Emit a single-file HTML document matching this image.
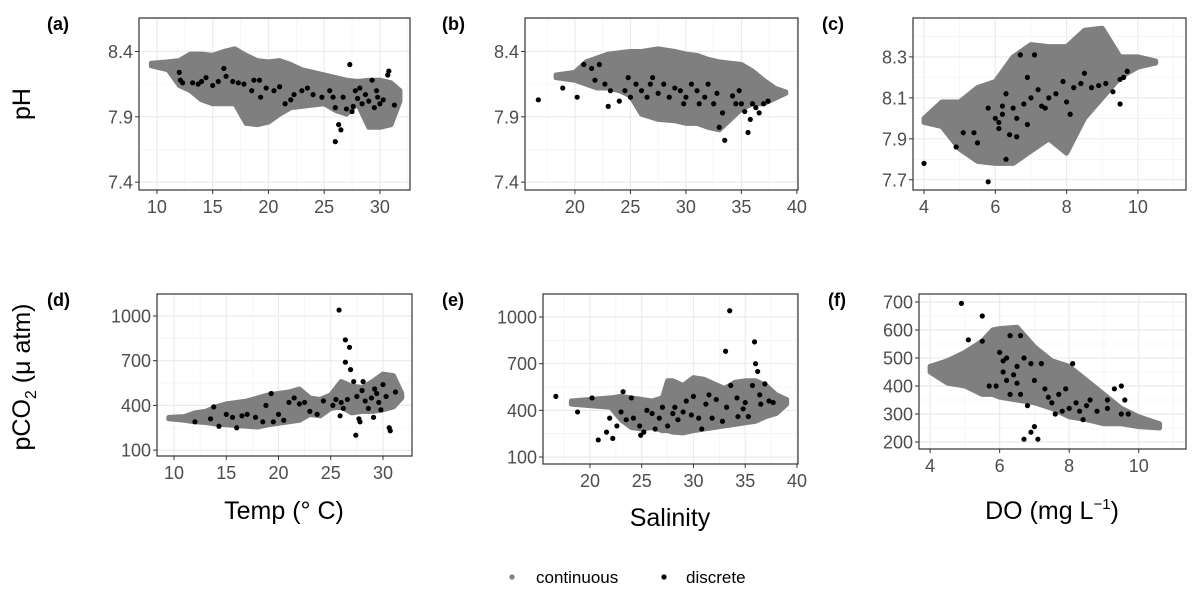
<!DOCTYPE html>
<html><head><meta charset="utf-8"><style>
body{margin:0;background:#fff;}
svg{display:block;font-family:"Liberation Sans",sans-serif;}
</style></head><body>
<svg id="chart" width="1197" height="598" viewBox="0 0 1197 598" xmlns="http://www.w3.org/2000/svg">
<rect width="1197" height="598" fill="#fff"/>
<text x="30" y="104" font-size="25" text-anchor="middle" transform="rotate(-90 30 104)">pH</text>
<text x="30" y="377" font-size="25" text-anchor="middle" transform="rotate(-90 30 377)">pCO<tspan font-size="16" dy="6">2</tspan><tspan dy="-6"> (μ atm)</tspan></text>
<text x="284" y="519" font-size="25" text-anchor="middle">Temp (° C)</text>
<text x="670" y="526" font-size="25" text-anchor="middle">Salinity</text>
<text x="1052" y="519" font-size="25" text-anchor="middle">DO (mg L<tspan font-size="15" dy="-10">−1</tspan><tspan dy="10">)</tspan></text>
<g>
<circle cx="512" cy="577" r="2.6" fill="#7f7f7f"/>
<text x="536" y="583" font-size="17">continuous</text>
<circle cx="664" cy="577" r="2.6" fill="#000"/>
<text x="686" y="583" font-size="17">discrete</text>
</g>
</svg>
<script>
// ---- data ----
const aCloudX=[9.5,11,12,13,14,15,16,17,18,19,20,21,22,23,24,25,26,27,28,29,30,31,31.8];
const aCloudHi=[8.31,8.32,8.33,8.38,8.38,8.37,8.40,8.42,8.37,8.33,8.32,8.33,8.30,8.26,8.24,8.22,8.20,8.18,8.17,8.18,8.18,8.16,8.10];
const aCloudLo=[8.29,8.26,8.14,8.10,8.03,8.00,8.00,8.00,7.85,7.84,7.86,7.92,7.97,7.98,7.99,8.00,7.95,7.92,8.00,7.82,7.82,7.84,8.02];
const aDiscX=[12,12.1,12.3,13.2,13.7,14,14.4,15,15.5,16,16.2,16.8,17.3,17.8,18.5,18.7,19.2,19.3,19.8,20.5,21,21.5,22,22.3,23,23.5,24,24.8,25.5,25.8,26,26,26.3,26.5,26.7,27,27.3,27.6,27.8,28,28.4,28.7,29,29.3,29.5,29.8,30,30.3,30.7,30.8,31.3,28.2,27.5,29.7];
const aDiscY=[8.24,8.18,8.16,8.16,8.15,8.17,8.2,8.14,8.17,8.27,8.21,8.17,8.16,8.15,8.1,8.18,8.18,8.05,8.12,8.1,8.13,8.0,8.03,8.07,8.1,8.12,8.07,8.05,8.1,8.05,7.97,7.71,7.84,7.80,8.05,7.96,8.3,7.98,8.1,8.04,8.0,8.07,8.02,8.18,7.97,8.05,8.0,8.03,8.22,8.25,7.99,8.12,7.94,8.1];

const bCloudX=[18.3,20,21,22,23,24,25,26,27.5,29,30,31,32,33,34,35,36,37,38,39];
const bCloudHi=[8.22,8.24,8.32,8.35,8.38,8.39,8.40,8.40,8.42,8.40,8.38,8.37,8.34,8.32,8.31,8.30,8.25,8.18,8.12,8.09];
const bCloudLo=[8.20,8.18,8.15,8.12,8.12,8.10,8.06,7.92,7.88,7.87,7.85,7.85,7.82,7.80,7.88,7.96,8.00,8.00,8.04,8.08];
const bDiscX=[16.7,18.9,20.2,20.8,21.5,21.8,22.2,22.7,23,23.2,24,24.5,24.8,25,25.5,26,26.5,27,27.5,28,28.5,29,29.5,30,30.5,31,31.2,31.7,32,32.5,33,33.3,33.5,34.2,34.5,35,35.3,35.6,35.8,36,36.3,36.6,37,37.4,34.8,32.8,29.8,26.8];
const bDiscY=[8.03,8.12,8.05,8.3,8.27,8.18,8.3,8.15,7.98,8.1,8.02,8.1,8.2,8.05,8.15,8.1,8.05,8.2,8.08,8.15,8.05,8.12,8.1,8.05,8.15,8.1,8.0,8.05,8.15,8.0,7.82,7.93,7.72,8.06,8.0,8.0,7.94,7.78,7.88,8.0,7.97,7.93,8.0,8.02,8.1,8.08,8.0,8.15];

const cCloudX=[4.0,4.5,5.0,5.5,6.0,6.5,7.0,7.5,8.0,8.5,9.0,9.5,10.0,10.5];
const cCloudHi=[8.00,8.08,8.08,8.15,8.18,8.30,8.36,8.35,8.35,8.43,8.44,8.30,8.30,8.28];
const cCloudLo=[7.98,7.96,7.85,7.79,7.78,7.78,7.84,7.90,7.83,8.00,8.10,8.20,8.25,8.27];
const cDiscX=[4.0,4.9,5.1,5.4,5.5,5.8,5.8,6.0,6.1,6.2,6.3,6.3,6.4,6.5,6.6,6.7,6.8,6.9,6.9,7.0,7.1,7.2,7.4,7.5,7.7,7.9,8.0,8.1,8.2,8.4,8.5,8.7,8.9,9.1,9.3,9.5,9.5,9.6,9.7,6.2,6.6,7.3,6.1];
const cDiscY=[7.78,7.86,7.93,7.93,7.88,7.69,8.05,8.0,7.95,8.02,7.8,8.12,7.92,8.05,7.91,8.31,8.07,8.2,7.97,8.1,8.31,8.14,8.05,8.1,8.12,8.18,8.08,8.02,8.15,8.17,8.22,8.15,8.16,8.17,8.13,8.19,8.07,8.2,8.23,8.06,8.0,8.06,7.98];

const dCloudX=[9.5,11,12,13,14,15,16,17,18,19,20,21,22,23,24,25,26,27,28,29,30,31,31.8];
const dCloudHi=[320,325,350,360,390,410,420,430,450,470,480,490,510,450,440,470,560,530,520,560,610,600,480];
const dCloudLo=[310,300,290,285,275,270,265,260,255,270,280,290,300,340,330,380,390,350,360,360,370,390,450];
const dDiscX=[12,13.5,13.8,14.3,15,15.6,16,16.5,17,17.8,18.5,18.8,19.3,19.5,20,20.5,21,21.5,22,22.5,23,23.7,24.3,25.2,25.5,25.8,25.9,26,26.2,26.4,26.4,26.8,26.9,27.2,27.4,27.5,27.7,27.8,28,28.3,28.6,28.9,29.1,29.4,29.6,29.8,30,30.3,30.6,30.7,31.2,28.1,29.2,26.6];
const dDiscY=[290,310,390,260,340,320,250,330,340,320,290,400,480,290,340,300,420,450,410,420,360,340,430,400,440,1040,330,420,380,840,690,790,640,560,200,460,310,290,500,430,380,450,320,480,420,370,540,460,250,230,490,560,510,440];

const eCloudX=[18.2,20,22,23,24,25,26,27,27.5,28,29,30,31,32,33,34,35,36,37,38,39];
const eCloudHi=[460,470,480,490,480,470,460,480,590,590,560,610,600,570,540,580,590,590,560,500,470];
const eCloudLo=[440,430,420,340,290,280,290,270,270,260,255,270,280,290,300,310,320,330,360,380,440];
const eDiscX=[16.7,18.8,20.2,20.8,21.6,21.9,22.2,22.6,23,23.2,23.5,24,24.2,24.8,24.9,25.2,25.5,26,26.3,26.7,27,27.5,28,28.5,29,29.3,29.8,30,30.5,30.8,31.2,31.5,31.8,32.2,32.8,33.1,33.2,33.5,33.6,34.2,34.3,35,35.3,35.7,35.9,36,36.2,36.4,36.5,36.9,37.3,37.7,34.8,28.2];
const eDiscY=[490,390,480,210,260,350,220,300,390,520,340,480,350,300,240,260,400,380,280,350,420,300,380,340,390,460,370,490,350,280,440,500,350,470,330,780,420,1040,560,480,360,450,360,560,840,700,650,500,440,570,460,450,410,420];

const fCloudX=[4.0,4.5,5.0,5.5,5.8,6.0,6.5,7.0,7.5,8.0,8.5,9.0,9.5,10.0,10.6];
const fCloudHi=[470,490,520,560,600,605,610,540,490,470,420,370,320,290,265];
const fCloudLo=[450,410,400,370,370,360,350,340,320,290,280,265,265,255,250];
const fDiscX=[4.9,5.1,5.5,5.5,5.7,5.9,6.0,6.1,6.1,6.2,6.3,6.3,6.4,6.5,6.5,6.6,6.6,6.7,6.7,6.8,6.9,6.9,7.0,7.0,7.1,7.2,7.3,7.4,7.6,7.7,7.8,7.9,8.0,8.1,8.2,8.3,8.4,8.5,8.6,8.8,9.1,9.3,9.5,9.5,9.6,9.7,9.1,6.2,7.5];
const fDiscY=[695,565,650,560,400,400,520,450,490,500,580,370,440,470,410,580,370,500,210,330,480,235,255,420,210,480,390,360,300,370,310,390,320,480,340,310,280,330,350,310,350,390,300,400,350,300,320,420,340];

const phTicks=["7.4","7.9","8.4"];
const ph2Ticks=["7.7","7.9","8.1","8.3"];
const pco2Ticks=["100","400","700","1000"];
const pco2fTicks=["200","300","400","500","600","700"];
const tempTicks=["10","15","20","25","30"];
const salTicks=["20","25","30","35","40"];
const doTicks=["4","6","8","10"];

// ---- rendering ----
const svg=document.getElementById('chart');
const NS='http://www.w3.org/2000/svg';
function mk(tag,attrs,parent){const e=document.createElementNS(NS,tag);for(const k in attrs)e.setAttribute(k,attrs[k]);(parent||svg).appendChild(e);return e;}

function panel(p){
  const g=mk('g',{});
  
  
  const sx=v=>p.x0+(v-p.xd[0])/(p.xd[1]-p.xd[0])*(p.x1-p.x0);
  const sy=v=>p.y1-(v-p.yd[0])/(p.yd[1]-p.yd[0])*(p.y1-p.y0);
  const xt=p.xTicks.map(Number), yt=p.yTicks.map(Number);
  const xs=xt[1]-xt[0], ys=yt[1]-yt[0];
  for(let v=xt[0]-xs/2; v<=p.xd[1]; v+=xs){ if(v>=p.xd[0]){const l=mk('line',{x1:sx(v),x2:sx(v),y1:p.y0,y2:p.y1,stroke:'#f0f0f0','stroke-width':0.6},g);}}
  for(let v=yt[0]-ys/2; v<=p.yd[1]; v+=ys){ if(v>=p.yd[0]){const l=mk('line',{x1:p.x0,x2:p.x1,y1:sy(v),y2:sy(v),stroke:'#f0f0f0','stroke-width':0.6},g);}}
  p.xTicks.forEach(t=>{const v=Number(t),X=sx(v);
    const l=mk('line',{x1:X,x2:X,y1:p.y0,y2:p.y1,stroke:'#ebebeb','stroke-width':1.2},g);
    
    const tk=mk('line',{x1:X,x2:X,y1:p.y1,y2:p.y1+4,stroke:'#333','stroke-width':1},g);
    
    const tx=mk('text',{x:X,y:p.y1+23,'font-size':18,fill:'#4d4d4d','text-anchor':'middle'},g);tx.textContent=t;
    });
  p.yTicks.forEach(t=>{const v=Number(t),Y=sy(v);
    const l=mk('line',{x1:p.x0,x2:p.x1,y1:Y,y2:Y,stroke:'#ebebeb','stroke-width':1.2},g);
    
    const tk=mk('line',{x1:p.x0-4,x2:p.x0,y1:Y,y2:Y,stroke:'#333','stroke-width':1},g);
    
    const tx=mk('text',{x:p.x0-6,y:Y+6.5,'font-size':18,fill:'#4d4d4d','text-anchor':'end'},g);tx.textContent=t;
    });
  let pts=[];
  p.cx.forEach((v,i)=>pts.push(sx(v)+','+sy(p.chi[i])));
  for(let i=p.cx.length-1;i>=0;i--)pts.push(sx(p.cx[i])+','+sy(p.clo[i]));
  const poly=mk('polygon',{points:pts.join(' '),fill:'#7f7f7f',stroke:'#7f7f7f','stroke-width':5,'stroke-linejoin':'round'},g);
  
  
  p.dx.forEach((v,i)=>{const c=mk('circle',{cx:sx(v),cy:sy(p.dy[i]),r:2.6,fill:'#000'},g);
    
    });
  const fr=mk('rect',{x:p.x0,y:p.y0,width:p.x1-p.x0,height:p.y1-p.y0,fill:'none',stroke:'#333','stroke-width':1.2},g);
  
  
  const lb=mk('text',{x:p.lx,y:p.ly,'font-size':18,'font-weight':'bold'},g);lb.textContent='('+p.id+')';
  
  
}

panel({id:'a',x0:139,x1:410,y0:18,y1:190,xd:[8.39,32.7],yd:[7.34,8.656],xTicks:tempTicks,yTicks:phTicks,cx:aCloudX,chi:aCloudHi,clo:aCloudLo,dx:aDiscX,dy:aDiscY,lx:47,ly:30});
panel({id:'b',x0:525,x1:798,y0:18,y1:190,xd:[15.5,40.1],yd:[7.34,8.656],xTicks:salTicks,yTicks:phTicks,cx:bCloudX,chi:bCloudHi,clo:bCloudLo,dx:bDiscX,dy:bDiscY,lx:442,ly:30});
panel({id:'c',x0:913,x1:1186,y0:18,y1:190,xd:[3.69,11.35],yd:[7.65,8.49],xTicks:doTicks,yTicks:ph2Ticks,cx:cCloudX,chi:cCloudHi,clo:cCloudLo,dx:cDiscX,dy:cDiscY,lx:822,ly:30});
panel({id:'d',x0:157,x1:412,y0:294,y1:456,xd:[8.37,32.78],yd:[60.4,1147.7],xTicks:tempTicks,yTicks:pco2Ticks,cx:dCloudX,chi:dCloudHi,clo:dCloudLo,dx:dDiscX,dy:dDiscY,lx:47,ly:306});
panel({id:'e',x0:543,x1:798,y0:294,y1:464,xd:[15.46,40.1],yd:[55.3,1147.8],xTicks:salTicks,yTicks:pco2Ticks,cx:eCloudX,chi:eCloudHi,clo:eCloudLo,dx:eDiscX,dy:eDiscY,lx:442,ly:306});
panel({id:'f',x0:919,x1:1186,y0:294,y1:449,xd:[3.68,11.36],yd:[175,728.6],xTicks:doTicks,yTicks:pco2fTicks,cx:fCloudX,chi:fCloudHi,clo:fCloudLo,dx:fDiscX,dy:fDiscY,lx:828,ly:306});
</script>
</body></html>
